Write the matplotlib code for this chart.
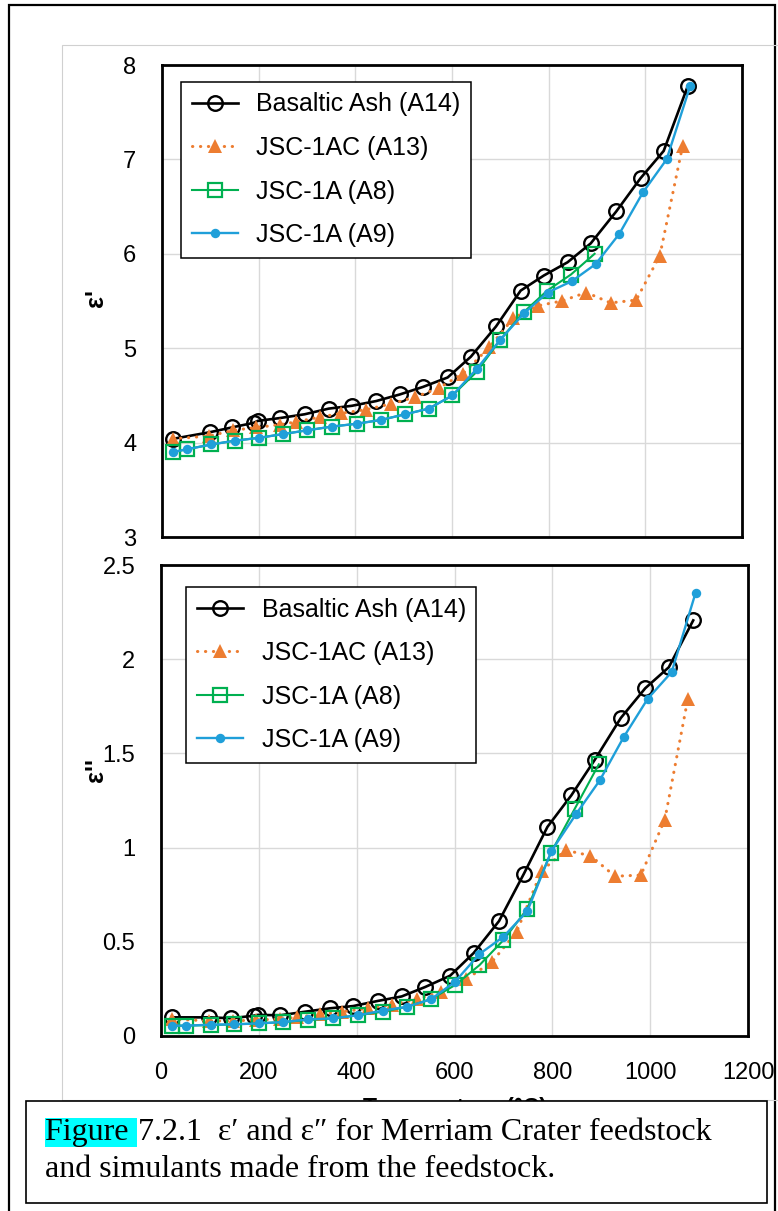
import matplotlib
matplotlib.use("Agg")
import matplotlib.pyplot as plt
from matplotlib.patches import Rectangle

# ---------------- data ----------------
labels = ["Basaltic Ash (A14)", "JSC-1AC (A13)", "JSC-1A (A8)", "JSC-1A (A9)"]

T_A14 = [23, 99, 144, 190, 198, 244, 295, 345, 393, 443, 492, 540, 591, 639, 691, 742, 790, 839, 887, 940, 990, 1038, 1088]
e1_A14 = [4.04, 4.11, 4.16, 4.21, 4.23, 4.26, 4.30, 4.36, 4.39, 4.44, 4.51, 4.59, 4.69, 4.91, 5.23, 5.61, 5.77, 5.91, 6.11, 6.45, 6.80, 7.09, 7.78]
e2_A14 = [0.099, 0.099, 0.094, 0.108, 0.112, 0.110, 0.129, 0.147, 0.159, 0.186, 0.210, 0.260, 0.320, 0.440, 0.610, 0.862, 1.110, 1.278, 1.467, 1.688, 1.846, 1.957, 2.206]

T_A13 = [22, 98, 147, 195, 244, 278, 326, 371, 423, 473, 523, 573, 623, 677, 727, 778, 827, 878, 928, 981, 1030, 1077]
e1_A13 = [4.04, 4.07, 4.13, 4.16, 4.19, 4.22, 4.27, 4.31, 4.35, 4.41, 4.48, 4.58, 4.73, 5.01, 5.32, 5.45, 5.50, 5.59, 5.48, 5.51, 5.98, 7.14]
e2_A13 = [0.090, 0.080, 0.080, 0.085, 0.090, 0.100, 0.115, 0.129, 0.147, 0.167, 0.195, 0.235, 0.300, 0.394, 0.553, 0.876, 0.986, 0.957, 0.848, 0.854, 1.149, 1.790]

T_A8 = [23, 52, 102, 150, 200, 250, 300, 352, 403, 453, 503, 552, 601, 651, 700, 748, 797, 846, 895]
e1_A8 = [3.90, 3.93, 3.98, 4.02, 4.05, 4.09, 4.13, 4.17, 4.20, 4.24, 4.30, 4.36, 4.50, 4.75, 5.09, 5.38, 5.61, 5.78, 6.00]
e2_A8 = [0.055, 0.055, 0.058, 0.062, 0.067, 0.074, 0.085, 0.094, 0.110, 0.129, 0.155, 0.196, 0.270, 0.376, 0.509, 0.672, 0.972, 1.207, 1.442]

T_A9 = [23, 52, 102, 150, 200, 250, 300, 352, 403, 453, 503, 552, 601, 651, 700, 749, 798, 848, 897, 946, 995, 1044, 1093]
e1_A9 = [3.90, 3.93, 3.98, 4.02, 4.05, 4.09, 4.13, 4.17, 4.20, 4.24, 4.30, 4.36, 4.50, 4.78, 5.09, 5.37, 5.59, 5.71, 5.89, 6.21, 6.65, 7.00, 7.78]
e2_A9 = [0.055, 0.055, 0.060, 0.062, 0.067, 0.074, 0.088, 0.094, 0.110, 0.135, 0.155, 0.195, 0.288, 0.435, 0.527, 0.663, 0.981, 1.176, 1.357, 1.587, 1.790, 1.932, 2.354]

x_ticks = [0, 200, 400, 600, 800, 1000, 1200]
y1_ticks = [3, 4, 5, 6, 7, 8]
y2_ticks = [0, 0.5, 1, 1.5, 2, 2.5]
y2_ticklabels = ["0", "0.5", "1", "1.5", "2", "2.5"]
xlabel = "Temperature (°C)"
caption_head = "Figure "
caption_rest = "7.2.1  ε′ and ε″ for Merriam Crater feedstock"
caption_line2 = "and simulants made from the feedstock."

# ---------------- style ----------------
plt.rcParams["font.family"] = ["Liberation Sans", "DejaVu Sans"]
W, H = 778, 1211

def fx(px):
    return px / W

def fy(py):
    return 1 - py / H

styles = [
    dict(color="black", lw=1.9, marker="o", ms=10.5, mfc="none", mec="black", mew=1.7, ls="-"),
    dict(color="#ED7D31", lw=2.2, marker="^", ms=10.5, mfc="#ED7D31", mec="#ED7D31", mew=0,
         ls=(0, (0.1, 2.5)), dash_capstyle="round"),
    dict(color="#00B050", lw=1.5, marker="s", ms=9.5, mfc="none", mec="#00B050", mew=1.6, ls="-"),
    dict(color="#1F9FD9", lw=1.7, marker="o", ms=6.8, mfc="#1F9FD9", mec="#1F9FD9", mew=0, ls="-"),
]

fig = plt.figure(figsize=(7.78, 12.11), dpi=100)

# outer border and chart area
fig.add_artist(Rectangle((fx(9), -0.02), fx(775) - fx(9), fy(5) + 0.02, transform=fig.transFigure,
                         fill=False, edgecolor="black", lw=1.6, zorder=-2))
fig.add_artist(Rectangle((fx(62), fy(1100)), 1.1, fy(45) - fy(1100), transform=fig.transFigure,
                         fill=False, edgecolor="#d0d0d0", lw=0.8, zorder=-1))

ax1 = fig.add_axes([fx(162), fy(537), fx(742) - fx(162), fy(65) - fy(537)])
ax2 = fig.add_axes([fx(161), fy(1036), fx(748) - fx(161), fy(565) - fy(1036)])

series_top = [(T_A14, e1_A14), (T_A13, e1_A13), (T_A8, e1_A8), (T_A9, e1_A9)]
series_bot = [(T_A14, e2_A14), (T_A13, e2_A13), (T_A8, e2_A8), (T_A9, e2_A9)]

for ax, series in ((ax1, series_top), (ax2, series_bot)):
    for (t, v), st, lab in zip(series, styles, labels):
        ax.plot(t, v, label=lab, **st)
    ax.set_xlim(0, 1200)
    ax.set_xticks(x_ticks)
    ax.grid(True, color="#d9d9d9", lw=1.0)
    ax.set_axisbelow(True)
    for sp in ax.spines.values():
        sp.set_linewidth(2.0)
        sp.set_color("black")
    ax.tick_params(length=0, pad=18.5, labelsize=17, colors="black")

ax1.set_ylim(3, 8)
ax1.set_yticks(y1_ticks)
ax1.tick_params(axis="x", labelbottom=False)

ax2.set_ylim(0, 2.5)
ax2.set_yticks(y2_ticks)
ax2.set_yticklabels(y2_ticklabels)
ax2.set_xticklabels([str(v) for v in x_ticks])

ax1.set_ylabel("ε'", fontweight="bold", fontsize=18)
ax1.yaxis.set_label_coords((108 - 162) / 580, 0.506)
ax2.set_ylabel("ε''", fontweight="bold", fontsize=18)
ax2.yaxis.set_label_coords((108 - 161) / 587, 0.565)
ax2.set_xlabel(xlabel, fontweight="bold", fontsize=16.5)
ax2.xaxis.set_label_coords(0.5, (1036 - 1097) / 471)

leg_kw = dict(loc="upper left", bbox_transform=fig.transFigure, borderaxespad=0, frameon=True,
              fancybox=False, edgecolor="black", framealpha=1, fontsize=18, handlelength=1.85,
              handletextpad=0.75, labelspacing=0.78, borderpad=0.42)
leg1 = ax1.legend(bbox_to_anchor=(fx(181), fy(82)), **leg_kw)
leg2 = ax2.legend(bbox_to_anchor=(fx(186), fy(587)), **leg_kw)
for lg in (leg1, leg2):
    lg.get_frame().set_linewidth(1.1)

# caption box
fig.add_artist(Rectangle((fx(26), fy(1203)), fx(767) - fx(26), fy(1101) - fy(1203),
                         transform=fig.transFigure, facecolor="white", edgecolor="black",
                         lw=1.2, zorder=5))
serif = ["Liberation Serif", "DejaVu Serif"]
t1 = fig.text(fx(45), fy(1140), caption_head, fontsize=23, family=serif, va="baseline", ha="left",
              bbox=dict(facecolor="#00FFFF", edgecolor="none", pad=0), zorder=7)
fig.canvas.draw()
bb = t1.get_window_extent()
fig.text(bb.x1 / fig.bbox.width + fx(2), fy(1140), caption_rest, fontsize=23, family=serif,
         va="baseline", ha="left", zorder=7)
fig.text(fx(45), fy(1177), caption_line2, fontsize=23, family=serif, va="baseline", ha="left",
         zorder=7)

fig.savefig("out.png", dpi=100)
